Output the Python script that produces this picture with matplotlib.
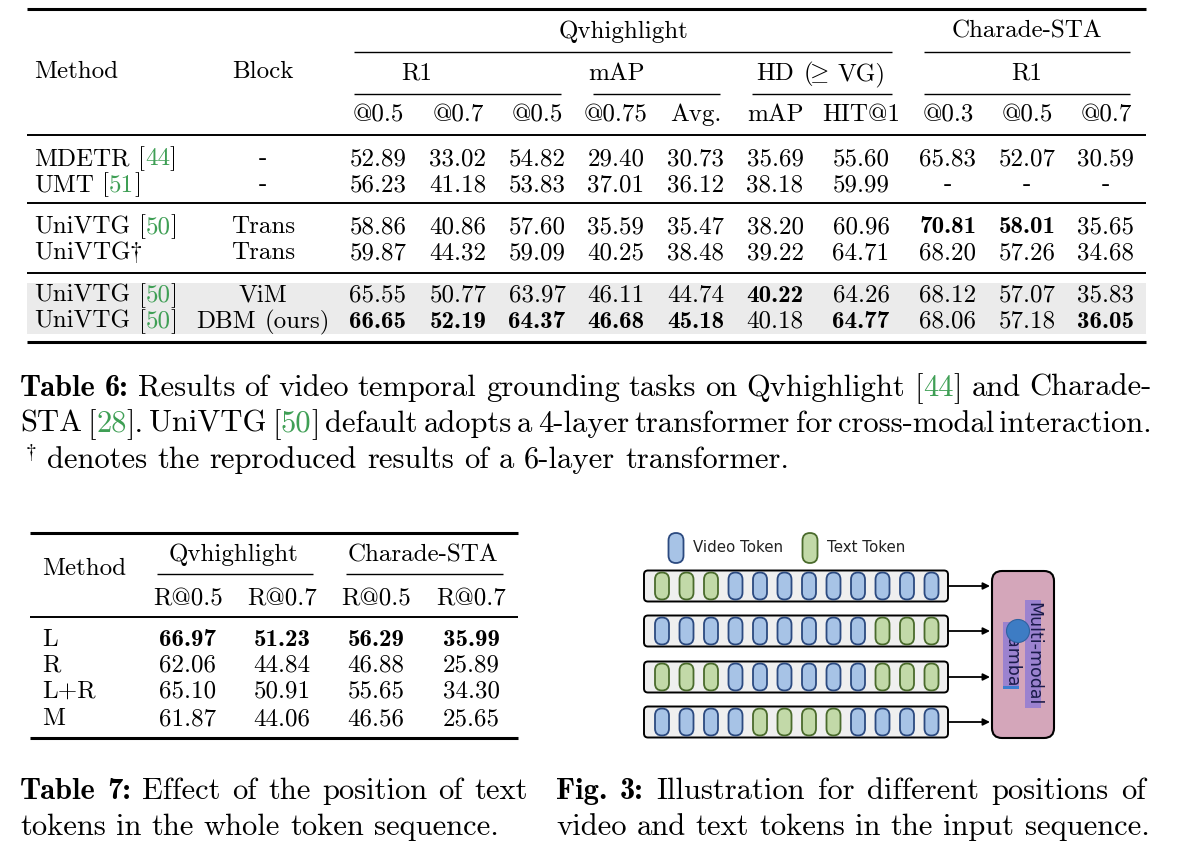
import re
import matplotlib
matplotlib.use('Agg')
import matplotlib.pyplot as plt
from matplotlib.patches import FancyBboxPatch, Rectangle, Circle

plt.rcParams['mathtext.fontset'] = 'cm'
plt.rcParams['axes.unicode_minus'] = False

GREEN = '#3f9f55'

# --- Table 6 data ---
t6_methods = ['MDETR [{44}]', 'UMT [{51}]', 'UniVTG [{50}]', r'UniVTG$\dagger$', 'UniVTG [{50}]', 'UniVTG [{50}]']
t6_blocks = ['-', '-', 'Trans', 'Trans', 'ViM', 'DBM (ours)']
t6_cols = ['@0.5', '@0.7', '@0.5', '@0.75', 'Avg.', 'mAP', 'HIT@1', '@0.3', '@0.5', '@0.7']
t6_row1 = [52.89, 33.02, 54.82, 29.40, 30.73, 35.69, 55.60, 65.83, 52.07, 30.59]
t6_row2 = [56.23, 41.18, 53.83, 37.01, 36.12, 38.18, 59.99, None, None, None]
t6_row3 = [58.86, 40.86, 57.60, 35.59, 35.47, 38.20, 60.96, 70.81, 58.01, 35.65]
t6_row4 = [59.87, 44.32, 59.09, 40.25, 38.48, 39.22, 64.71, 68.20, 57.26, 34.68]
t6_row5 = [65.55, 50.77, 63.97, 46.11, 44.74, 40.22, 64.26, 68.12, 57.07, 35.83]
t6_row6 = [66.65, 52.19, 64.37, 46.68, 45.18, 40.18, 64.77, 68.06, 57.18, 36.05]
t6_vals = [t6_row1, t6_row2, t6_row3, t6_row4, t6_row5, t6_row6]

# --- Table 7 data ---
t7_methods = ['L', 'R', 'L+R', 'M']
t7_cols = ['R@0.5', 'R@0.7', 'R@0.5', 'R@0.7']
t7_vals = [[66.97, 51.23, 56.29, 35.99],
           [62.06, 44.84, 46.88, 25.89],
           [65.10, 50.91, 55.65, 34.30],
           [61.87, 44.06, 46.56, 25.65]]

# --- Fig. 3 token layout (T = text token, V = video token) ---
token_rows = ['TTTVVVVVVVVV', 'VVVVVVVVVTTT', 'TTTVVVVVVTTT', 'VVVVTTTTVVVV']

cap6 = [
    '*Table* *6:* Results of video temporal grounding tasks on Qvhighlight [{44}] and Charade-',
    'STA [{28}]. UniVTG [{50}] default adopts a 4-layer transformer for cross-modal interaction.',
    r'$^\dagger$ denotes the reproduced results of a 6-layer transformer.',
]
cap7 = ['*Table* *7:* Effect of the position of text',
        'tokens in the whole token sequence.']
capf3 = ['*Fig.* *3:* Illustration for different positions of',
         'video and text tokens in the input sequence.']

STY = {'r': dict(family='cmr10', color='black'),
       'b': dict(family='cmb10', color='black'),
       'g': dict(family='cmr10', color=GREEN)}

fig = plt.figure(figsize=(11.8, 8.66), dpi=100)
ax = fig.add_axes([0, 0, 1, 1])
ax.set_xlim(0, 1180)
ax.set_ylim(866, 0)
ax.axis('off')
renderer = fig.canvas.get_renderer()


def parse(s, base='r'):
    words = []
    for w in s.split(' '):
        runs = []
        for part in re.split(r'(\{[^}]*\}|\*[^*]*\*)', w):
            if not part:
                continue
            if part.startswith('{'):
                runs.append((part[1:-1], 'g'))
            elif part.startswith('*'):
                runs.append((part[1:-1], 'b'))
            else:
                runs.append((part, base))
        words.append(runs)
    return words


def width(s, st, size):
    t = ax.text(0, 0, s, fontsize=size, **STY[st])
    w = t.get_window_extent(renderer).width
    t.remove()
    return w


def draw(s, x, y, size, ha='left', x1=None, base='r'):
    words = parse(s, base)
    wl = [[width(p, st, size) for p, st in w] for w in words]
    tot = [sum(ws) for ws in wl]
    sp = width('a a', 'r', size) - width('aa', 'r', size)
    if x1 is not None and len(words) > 1:
        sp = (x1 - x - sum(tot)) / (len(words) - 1)
    full = sum(tot) + sp * (len(words) - 1)
    if ha == 'center':
        x = x - full / 2
    elif ha == 'right':
        x = x - full
    for w, ws in zip(words, wl):
        for (p, st), wi in zip(w, ws):
            ax.text(x, y, p, fontsize=size, va='baseline', ha='left', **STY[st])
            x += wi
        x += sp


def rule(x0, x1, y, lw):
    ax.plot([x0, x1], [y, y], color='black', lw=lw, solid_capstyle='butt')


def fmt(v):
    return '-' if v is None else f'{v:.2f}'


TS = 18      # table font size
CS = 22      # caption font size

# ================= Table 6 =================
t6_x = [378, 458, 537, 616, 696, 775, 861, 948, 1027, 1106]
t6_y = [165, 191, 233, 259, 302, 328]
ax.add_patch(Rectangle((27, 283), 1119, 51, facecolor='#ebebeb', edgecolor='none', zorder=0))
rule(27, 1146, 9, 2.2)
rule(27, 1146, 135, 1.4)
rule(27, 1146, 203, 1.4)
rule(27, 1146, 273, 1.4)
rule(27, 1146, 342, 2.2)
rule(354, 892, 52, 1.0)
rule(924, 1130, 52, 1.0)
for a, b in [(354, 561), (593, 720), (752, 892), (924, 1130)]:
    rule(a, b, 94, 1.0)

draw('Qvhighlight', 623, 38, TS, ha='center')
draw('Charade-STA', 1027, 38, TS, ha='center')
draw('Method', 34, 78, TS)
draw('Block', 263, 78, TS, ha='center')
draw('R1', 417, 80, TS, ha='center')
draw('mAP', 616, 80, TS, ha='center')
draw(r'HD ($\!\!\geq\!\!$ VG)', 821, 80, TS, ha='center')
draw('R1', 1027, 80, TS, ha='center')
for c, x in zip(t6_cols, t6_x):
    draw(c, x, 121, TS, ha='center')

col_max6 = [max(r[j] for r in t6_vals if r[j] is not None) for j in range(len(t6_cols))]
for i, row in enumerate(t6_vals):
    draw(t6_methods[i], 34, t6_y[i], TS)
    draw(t6_blocks[i], 263, t6_y[i], TS, ha='center')
    for j, v in enumerate(row):
        base = 'b' if v is not None and v == col_max6[j] else 'r'
        draw(fmt(v), t6_x[j], t6_y[i], TS, ha='center', base=base)

# caption 6
draw(cap6[0], 20, 396, CS, x1=1152)
draw(cap6[1], 20, 432, CS, x1=1152)
draw(cap6[2], 20, 468, CS)

# ================= Table 7 =================
t7_x = [188, 282, 376, 471]
t7_y = [646, 672, 698, 725]
rule(30, 518, 533, 2.2)
rule(30, 518, 617, 1.4)
rule(30, 518, 738, 2.2)
rule(157, 313, 574, 1.0)
rule(346, 503, 574, 1.0)
draw('Qvhighlight', 233, 561, TS, ha='center')
draw('Charade-STA', 423, 561, TS, ha='center')
draw('Method', 42, 575, TS)
for c, x in zip(t7_cols, t7_x):
    draw(c, x, 605, TS, ha='center')
col_max7 = [max(r[j] for r in t7_vals) for j in range(len(t7_cols))]
for i, row in enumerate(t7_vals):
    draw(t7_methods[i], 42, t7_y[i], TS)
    for j, v in enumerate(row):
        base = 'b' if v == col_max7[j] else 'r'
        draw(fmt(v), t7_x[j], t7_y[i], TS, ha='center', base=base)

draw(cap7[0], 20, 799, CS, x1=528)
draw(cap7[1], 20, 835, CS)
draw(capf3[0], 556, 799, CS, x1=1146)
draw(capf3[1], 556, 835, CS)

# ================= Fig. 3 =================
V_FC, V_EC = '#a7c3e6', '#2c4a80'
T_FC, T_EC = '#c2d9a8', '#4a6b2c'


def token(xc, yc, kind, w=14, h=27):
    fc, ec = (V_FC, V_EC) if kind == 'V' else (T_FC, T_EC)
    ax.add_patch(FancyBboxPatch((xc - w / 2, yc - h / 2), w, h,
                                boxstyle=f'round,pad=0,rounding_size={w / 2}',
                                fc=fc, ec=ec, lw=1.3, zorder=3))


token(676, 548, 'V', 15, 30)
ax.text(693, 548, 'Video Token', fontsize=10.8, family='DejaVu Sans', va='center', ha='left', color='#222222')
token(810, 548, 'T', 15, 30)
ax.text(827, 548, 'Text Token', fontsize=10.8, family='DejaVu Sans', va='center', ha='left', color='#222222')

row_y = [586, 631, 677, 722]
for yc, pattern in zip(row_y, token_rows):
    ax.add_patch(FancyBboxPatch((644, yc - 15.5), 304, 31,
                                boxstyle='round,pad=0,rounding_size=4',
                                fc='#efefef', ec='black', lw=1.4, zorder=2))
    for k, kind in enumerate(pattern):
        token(662 + k * 24.5, yc, kind)
    ax.annotate('', xy=(990, yc), xytext=(948, yc),
                arrowprops=dict(arrowstyle='-|>', color='black', lw=1.3,
                                mutation_scale=10, shrinkA=0, shrinkB=0))

ax.add_patch(FancyBboxPatch((992, 571), 62, 167, boxstyle='round,pad=0,rounding_size=10',
                            fc='#d4a6ba', ec='black', lw=1.5, zorder=2))
ax.add_patch(Rectangle((1025, 600), 16, 108, fc='#9b82cf', ec='none', zorder=3))
ax.add_patch(Rectangle((1003, 622), 16, 66, fc='#9b82cf', ec='none', zorder=3))
ax.add_patch(Rectangle((1003, 686), 16, 3, fc='#3d7dd0', ec='none', zorder=3))
ax.text(1033, 654, 'Multi-modal', rotation=270, ha='center', va='center', fontsize=12.5,
        family='DejaVu Sans', color='#1b1b4a', zorder=4)
ax.text(1011, 655, 'Mamba', rotation=270, ha='center', va='center', fontsize=12.5,
        family='DejaVu Sans', color='#1b1b4a', zorder=4)
ax.add_patch(Circle((1018, 631), 11.5, fc='#3d7cc4', ec='#2f62a0', lw=0.8, zorder=5))

fig.savefig('out.png', dpi=100)
